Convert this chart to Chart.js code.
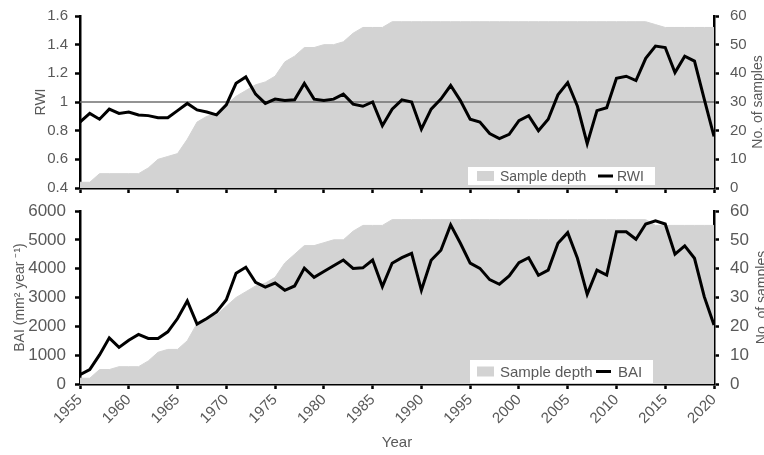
<!DOCTYPE html>
<html>
<head>
<meta charset="utf-8">
<script src="https://cdn.jsdelivr.net/npm/chart.js@4.4.0/dist/chart.umd.min.js"></script>
<style>
  html, body { margin: 0; padding: 0; background: #fff; }
  #wrap { position: relative; width: 764px; height: 455px; overflow: hidden; }
  #topBox { position: absolute; left: 0; top: 0; width: 764px; height: 200px; }
  #botBox { position: absolute; left: 0; top: 195px; width: 764px; height: 260px; }
</style>
</head>
<body>
<div id="wrap">
  <div id="topBox"><canvas id="chartRWI"></canvas></div>
  <div id="botBox"><canvas id="chartBAI"></canvas></div>
</div>
<script>
const years = [1955, 1956, 1957, 1958, 1959, 1960, 1961, 1962, 1963, 1964,
  1965, 1966, 1967, 1968, 1969, 1970, 1971, 1972, 1973, 1974,
  1975, 1976, 1977, 1978, 1979, 1980, 1981, 1982, 1983, 1984,
  1985, 1986, 1987, 1988, 1989, 1990, 1991, 1992, 1993, 1994,
  1995, 1996, 1997, 1998, 1999, 2000, 2001, 2002, 2003, 2004,
  2005, 2006, 2007, 2008, 2009, 2010, 2011, 2012, 2013, 2014,
  2015, 2016, 2017, 2018, 2019, 2020];

const rwi = [0.86, 0.92, 0.88, 0.95, 0.92, 0.93, 0.91, 0.905, 0.89, 0.89,
  0.94, 0.99, 0.945, 0.93, 0.91, 0.98, 1.13, 1.175, 1.055, 0.99,
  1.02, 1.01, 1.015, 1.13, 1.02, 1.01, 1.02, 1.055, 0.985, 0.97,
  1.0, 0.835, 0.95, 1.015, 1.0, 0.81, 0.95, 1.02, 1.115, 1.01,
  0.88, 0.86, 0.78, 0.745, 0.775, 0.87, 0.905, 0.80, 0.88, 1.05,
  1.135, 0.97, 0.71, 0.94, 0.96, 1.165, 1.18, 1.15, 1.305, 1.39,
  1.38, 1.205, 1.32, 1.285, 1.02, 0.76];

const depthRWI = [2, 2, 5, 5, 5, 5, 5, 7, 10, 11,
  12, 17, 23, 25, 26, 29, 32, 34, 36, 37,
  39, 44, 46, 49, 49, 50, 50, 51, 54, 56,
  56, 56, 58, 58, 58, 58, 58, 58, 58, 58,
  58, 58, 58, 58, 58, 58, 58, 58, 58, 58,
  58, 58, 58, 58, 58, 58, 58, 58, 58, 57,
  56, 56, 56, 56, 56, 56];

const bai = [320, 500, 1010, 1600, 1270, 1520, 1720, 1580, 1580, 1810,
  2270, 2880, 2080, 2270, 2500, 2920, 3840, 4050, 3530, 3360,
  3500, 3250, 3400, 4020, 3700, 3900, 4100, 4300, 4010, 4030,
  4300, 3380, 4190, 4380, 4530, 3250, 4290, 4640, 5520, 4880,
  4190, 4010, 3620, 3460, 3750, 4210, 4380, 3770, 3950, 4880,
  5250, 4360, 3110, 3950, 3780, 5280, 5280, 5020, 5550, 5660,
  5550, 4500, 4790, 4360, 3030, 2050];

const depthBAI = [2, 2, 5, 5, 6, 6, 6, 8, 11, 12,
  12, 15, 21, 23, 24, 27, 30, 32, 34, 35,
  37, 42, 45, 48, 48, 49, 50, 50, 53, 55,
  55, 55, 57, 57, 57, 57, 57, 57, 57, 57,
  57, 57, 57, 57, 57, 57, 57, 57, 57, 57,
  57, 57, 57, 57, 57, 57, 57, 57, 57, 55,
  55, 55, 55, 55, 55, 55];

const textColor = '#595959';
const fillGrey = '#d3d3d3';
const fontFamily = '"Liberation Sans", Arial, Helvetica, sans-serif';

Chart.defaults.font.family = fontFamily;
Chart.defaults.color = textColor;

function toPoints(values) {
  return years.map((yr, i) => ({x: yr, y: values[i]}));
}

// fixed box sizes, and no extra room for label overflow
function fixSize(w, h) {
  return s => {
    if (w !== null) s.width = w;
    if (h !== null) s.height = h;
    s.paddingTop = 0;
    s.paddingBottom = 0;
    s.paddingLeft = 0;
    s.paddingRight = 0;
  };
}

// gray reference line, drawn over the sample depth area but under the index line
const refLine = {
  id: 'refLine',
  afterDatasetDraw(chart, args, opts) {
    if (opts.value === undefined || args.index !== 1) return;
    const {ctx, chartArea} = chart;
    const y = chart.scales.y.getPixelForValue(opts.value);
    ctx.save();
    ctx.strokeStyle = '#707070';
    ctx.lineWidth = 1.5;
    ctx.beginPath();
    ctx.moveTo(chartArea.left, y);
    ctx.lineTo(chartArea.right, y);
    ctx.stroke();
    ctx.restore();
  }
};

// right axis title (reads bottom to top) and the boxed legend
const panelText = {
  id: 'panelText',
  afterDraw(chart, args, opts) {
    const {ctx, chartArea} = chart;
    ctx.save();
    ctx.fillStyle = textColor;
    ctx.font = '14px ' + fontFamily;
    ctx.textAlign = 'center';
    ctx.textBaseline = 'middle';
    ctx.translate(opts.titleX, (chartArea.top + chartArea.bottom) / 2);
    ctx.rotate(-Math.PI / 2);
    ctx.fillText(opts.title, 0, 0);
    ctx.restore();

    const L = opts.legend;
    const mid = L.y + L.h / 2;
    ctx.save();
    ctx.fillStyle = '#fff';
    ctx.fillRect(L.x, L.y, L.w, L.h);
    ctx.fillStyle = fillGrey;
    ctx.fillRect(L.x + L.box, mid - 5, 17, 10);
    ctx.fillStyle = textColor;
    ctx.font = L.size + 'px ' + fontFamily;
    ctx.textAlign = 'left';
    ctx.textBaseline = 'middle';
    ctx.fillText(chart.data.datasets[1].label, L.x + L.text1, mid + 1);
    ctx.strokeStyle = '#000';
    ctx.lineWidth = 3;
    ctx.beginPath();
    ctx.moveTo(L.x + L.line, mid);
    ctx.lineTo(L.x + L.line + 15, mid);
    ctx.stroke();
    ctx.fillText(chart.data.datasets[0].label, L.x + L.text2, mid + 1);
    ctx.restore();
  }
};

const axisLine = {color: '#000', width: 2.5};
const tickMarks = {drawOnChartArea: false, drawTicks: true, tickLength: 5, tickColor: '#000', tickWidth: 2.5};

// top panel: ring width index
new Chart(document.getElementById('chartRWI'), {
  type: 'line',
  data: {
    datasets: [
      {
        label: 'RWI',
        data: toPoints(rwi),
        yAxisID: 'y',
        borderColor: '#000',
        borderWidth: 3,
        pointRadius: 0,
        fill: false,
        order: 1
      },
      {
        label: 'Sample depth',
        data: toPoints(depthRWI),
        yAxisID: 'y2',
        borderColor: fillGrey,
        borderWidth: 1,
        backgroundColor: fillGrey,
        pointRadius: 0,
        fill: 'origin',
        order: 2
      }
    ]
  },
  options: {
    responsive: true,
    maintainAspectRatio: false,
    animation: false,
    events: [],
    layout: {padding: {top: 16, left: 0, right: 0, bottom: 0}, autoPadding: false},
    plugins: {
      legend: {display: false},
      tooltip: {enabled: false},
      refLine: {value: 1},
      panelText: {
        title: 'No. of samples',
        titleX: 758,
        legend: {x: 468, y: 167, w: 187, h: 18, box: 9, text1: 32, line: 130, text2: 149, size: 14}
      }
    },
    scales: {
      x: {
        type: 'linear',
        min: 1955,
        max: 2020,
        ticks: {display: false, stepSize: 5},
        grid: tickMarks,
        border: axisLine,
        afterFit: fixSize(null, 12)
      },
      y: {
        position: 'left',
        min: 0.4,
        max: 1.6,
        ticks: {stepSize: 0.2, padding: 7, font: {size: 15}, callback: v => String(+v.toFixed(1))},
        grid: tickMarks,
        border: axisLine,
        title: {display: true, text: 'RWI', font: {size: 14}, padding: {top: 33, bottom: 0}},
        afterFit: fixSize(80, null)
      },
      y2: {
        position: 'right',
        min: 0,
        max: 60,
        ticks: {stepSize: 10, padding: 11, font: {size: 15}},
        grid: tickMarks,
        border: axisLine,
        afterFit: fixSize(50, null)
      }
    }
  },
  plugins: [refLine, panelText]
});

// bottom panel: basal area increment
new Chart(document.getElementById('chartBAI'), {
  type: 'line',
  data: {
    datasets: [
      {
        label: 'BAI',
        data: toPoints(bai),
        yAxisID: 'y',
        borderColor: '#000',
        borderWidth: 3,
        pointRadius: 0,
        fill: false,
        order: 1
      },
      {
        label: 'Sample depth',
        data: toPoints(depthBAI),
        yAxisID: 'y2',
        borderColor: fillGrey,
        borderWidth: 1,
        backgroundColor: fillGrey,
        pointRadius: 0,
        fill: 'origin',
        order: 2
      }
    ]
  },
  options: {
    responsive: true,
    maintainAspectRatio: false,
    animation: false,
    events: [],
    layout: {padding: {top: 16, left: 0, right: 0, bottom: 0}, autoPadding: false},
    plugins: {
      legend: {display: false},
      tooltip: {enabled: false},
      panelText: {
        title: 'No. of samples',
        titleX: 762,
        legend: {x: 470, y: 165, w: 183, h: 23, box: 7, text1: 30, line: 126, text2: 148, size: 15}
      }
    },
    scales: {
      x: {
        type: 'linear',
        min: 1955,
        max: 2020,
        ticks: {stepSize: 5, minRotation: 45, maxRotation: 45, autoSkip: false, padding: 2,
          font: {size: 15}, callback: v => String(v)},
        grid: tickMarks,
        border: axisLine,
        title: {display: true, text: 'Year', font: {size: 15}, padding: {top: 0, bottom: 3}},
        afterFit: fixSize(null, 71)
      },
      y: {
        position: 'left',
        min: 0,
        max: 6000,
        ticks: {stepSize: 1000, padding: 9, font: {size: 17}, callback: v => String(v)},
        grid: tickMarks,
        border: axisLine,
        title: {display: true, text: 'BAI (mm² year ⁻¹)', font: {size: 14}, padding: {top: 12, bottom: 0}},
        afterFit: fixSize(80, null)
      },
      y2: {
        position: 'right',
        min: 0,
        max: 60,
        ticks: {stepSize: 10, padding: 11, font: {size: 17}},
        grid: tickMarks,
        border: axisLine,
        afterFit: fixSize(50, null)
      }
    }
  },
  plugins: [refLine, panelText]
});
</script>
</body>
</html>
